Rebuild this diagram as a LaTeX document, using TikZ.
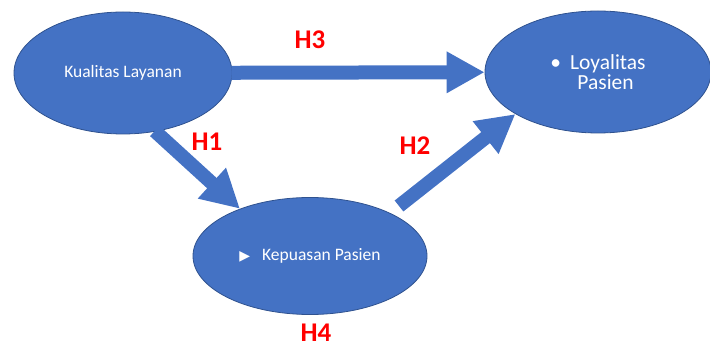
\documentclass[tikz,border=0pt]{standalone}
\usepackage{fontspec}
\setmainfont{Carlito}
\newfontfamily\symfont{DejaVu Sans}
\usetikzlibrary{shapes.geometric,arrows.meta}

\definecolor{office blue}{HTML}{4472C4}
\definecolor{office edge}{HTML}{2F528F}
\colorlet{hyp red}{red}
\tikzset{construct/.style={ellipse, fill=office blue, draw=office edge, line width=0.8pt,
        inner sep=0pt, text=white},
    path arrow/.style={draw=office blue, line width=14pt,
        -{Triangle[width=39pt,length=38pt]}, shorten <=-1pt},
    hyp/.style={text=hyp red, font=\bfseries\fontsize{27}{27}\selectfont}}

\begin{document}
\begin{tikzpicture}[x=1pt, y=-1pt]
    \useasboundingbox (0,0) rectangle (710,347);

    \node[construct, minimum width=218pt, minimum height=122pt,
        font=\fontsize{17.5}{19}\selectfont] (kualitas) at (123,73) {Kualitas Layanan};
    \node[construct, minimum width=226pt, minimum height=122pt, align=left,
        font=\fontsize{21.5}{20}\selectfont] (loyalitas) at (598,72)
        {\textbullet\hspace{9pt}Loyalitas\\\hspace*{27pt}Pasien};
    \node[construct, minimum width=234pt, minimum height=117pt,
        font=\fontsize{17.5}{19}\selectfont] (kepuasan) at (310,256)
        {{\symfont\fontsize{14}{14}\selectfont ▶}\hspace{12pt}Kepuasan Pasien};

    \coordinate (h2 start) at (399,206);

    \draw[path arrow] (kualitas) -- (loyalitas);
    \draw[path arrow] (kualitas.-61) -- (kepuasan.146);
    \draw[path arrow, shorten <=0pt] (h2 start) -- (loyalitas.207);

    \node[hyp] (h3) at (310,40) {H3};
    \node[hyp] (h1) at (207,142) {H1};
    \node[hyp] (h2) at (415,146) {H2};
    \node[hyp] (h4) at (316,333) {H4};
\end{tikzpicture}
\end{document}
